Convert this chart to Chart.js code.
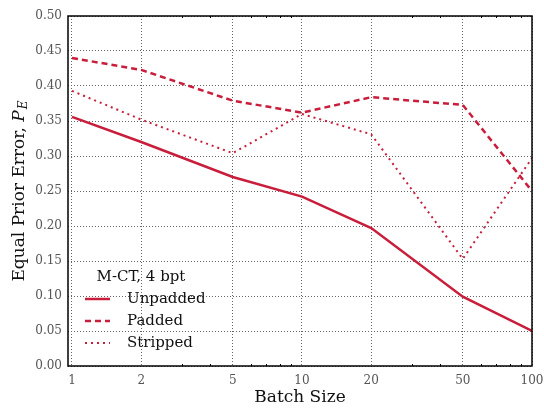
<!DOCTYPE html>
<html><head><meta charset="utf-8">
<script src="https://cdn.jsdelivr.net/npm/chart.js@4.4.0/dist/chart.umd.min.js"></script>
<style>html,body{margin:0;padding:0;background:#fff}</style>
</head><body>
<canvas id="c" width="544" height="411" style="width:544px;height:411px;display:block"></canvas>
<script>
const batchSizes = [1, 2, 5, 10, 20, 50, 100];
const unpadded = [0.356, 0.320, 0.270, 0.242, 0.197, 0.099, 0.050];
const padded   = [0.440, 0.423, 0.379, 0.362, 0.384, 0.373, 0.250];
const stripped = [0.393, 0.352, 0.304, 0.360, 0.331, 0.153, 0.297];
const xTicks = [1, 2, 5, 10, 20, 50, 100];
const xMinorTicks = [3, 4, 6, 7, 8, 9, 30, 40, 60, 70, 80, 90];
const yTicks = [0, 0.05, 0.1, 0.15, 0.2, 0.25, 0.3, 0.35, 0.4, 0.45, 0.5];
const seriesNames = ['Unpadded', 'Padded', 'Stripped'];
const legendTitle = 'M-CT, 4 bpt';
const xTitle = 'Batch Size';
const yTitle = 'Equal Prior Error, ';

const RED = '#c81e3c';
const SERIF = '"DejaVu Serif", "Liberation Serif", serif';

function mk(name, vals, dash, w) {
  return {
    label: name,
    data: batchSizes.map((x, i) => ({x: x, y: vals[i]})),
    borderColor: RED, backgroundColor: RED,
    borderWidth: w, borderDash: dash,
    pointRadius: 0, tension: 0, fill: false
  };
}

const decor = {
  id: 'decor',
  afterDatasetsDraw(chart) {
    const ctx = chart.ctx, a = chart.chartArea, xs = chart.scales.x;
    ctx.save();
    ctx.strokeStyle = '#000';
    ctx.lineWidth = 1;
    xMinorTicks.forEach(v => {
      const px = Math.round(xs.getPixelForValue(v)) + 0.5;
      ctx.beginPath(); ctx.moveTo(px, a.bottom); ctx.lineTo(px, a.bottom - 2); ctx.stroke();
      ctx.beginPath(); ctx.moveTo(px, a.top); ctx.lineTo(px, a.top + 2); ctx.stroke();
    });
    ctx.lineWidth = 1.5;
    ctx.strokeRect(a.left, a.top, a.right - a.left, a.bottom - a.top);
    ctx.restore();
  },
  afterDraw(chart) {
    const ctx = chart.ctx, a = chart.chartArea;
    ctx.save();
    ctx.fillStyle = '#111';
    ctx.font = '17px ' + SERIF;
    ctx.textAlign = 'center'; ctx.textBaseline = 'middle';
    ctx.fillText(xTitle, (a.left + a.right) / 2, 398);
    ctx.translate(20, (a.top + a.bottom) / 2);
    ctx.rotate(-Math.PI / 2);
    ctx.textAlign = 'left'; ctx.textBaseline = 'middle';
    const f1 = '17px ' + SERIF, f2 = 'italic 17px ' + SERIF, f3 = 'italic 12px ' + SERIF;
    ctx.font = f1; const w1 = ctx.measureText(yTitle).width;
    ctx.font = f2; const w2 = ctx.measureText('P').width;
    ctx.font = f3; const w3 = ctx.measureText('E').width;
    let x0 = -(w1 + w2 + w3 + 1) / 2;
    ctx.font = f1; ctx.fillText(yTitle, x0, 0);
    ctx.font = f2; ctx.fillText('P', x0 + w1, 0);
    ctx.font = f3; ctx.fillText('E', x0 + w1 + w2 + 1, 4);
    ctx.restore();

    ctx.save();
    ctx.font = '15px ' + SERIF;
    ctx.fillStyle = '#111';
    ctx.textBaseline = 'middle';
    ctx.textAlign = 'center';
    ctx.fillText(legendTitle, 141, 277);
    ctx.textAlign = 'left';
    const rows = [299, 321, 343];
    chart.data.datasets.forEach((ds, i) => {
      ctx.strokeStyle = ds.borderColor;
      ctx.lineWidth = ds.borderWidth;
      ctx.setLineDash(ds.borderDash || []);
      ctx.beginPath(); ctx.moveTo(85, rows[i]); ctx.lineTo(110, rows[i]); ctx.stroke();
      ctx.setLineDash([]);
      ctx.fillText(ds.label, 127, rows[i]);
    });
    ctx.restore();
  }
};

new Chart(document.getElementById('c'), {
  type: 'line',
  data: {
    datasets: [
      mk(seriesNames[0], unpadded, [], 2.5),
      mk(seriesNames[1], padded, [6, 4], 2.5),
      mk(seriesNames[2], stripped, [2, 4], 2)
    ]
  },
  options: {
    responsive: false, animation: false, devicePixelRatio: 1,
    layout: {padding: {top: 16, right: 12, left: 0, bottom: 0}},
    plugins: {legend: {display: false}, tooltip: {enabled: false}},
    scales: {
      x: {
        type: 'logarithmic', min: 0.9608, max: 100,
        afterBuildTicks: s => { s.ticks = xTicks.map(v => ({value: v, major: true})); },
        afterFit: s => { s.height = 45; s.paddingLeft = 0; s.paddingRight = 0; },
        ticks: {autoSkip: false, maxRotation: 0, padding: 8, color: '#555',
                font: {family: SERIF, size: 12}, callback: v => String(v)},
        grid: {color: '#666', lineWidth: 1, drawTicks: false},
        border: {display: false, dash: [1, 2]}
      },
      y: {
        type: 'linear', min: 0, max: 0.5,
        afterBuildTicks: s => { s.ticks = yTicks.map(v => ({value: v})); },
        afterFit: s => { s.width = 68; s.paddingTop = 0; s.paddingBottom = 0; },
        ticks: {padding: 6, color: '#555', font: {family: SERIF, size: 12},
                callback: v => Number(v).toFixed(2)},
        grid: {color: '#666', lineWidth: 1, drawTicks: false},
        border: {display: false, dash: [1, 2]}
      }
    }
  },
  plugins: [decor]
});
</script>
</body></html>
